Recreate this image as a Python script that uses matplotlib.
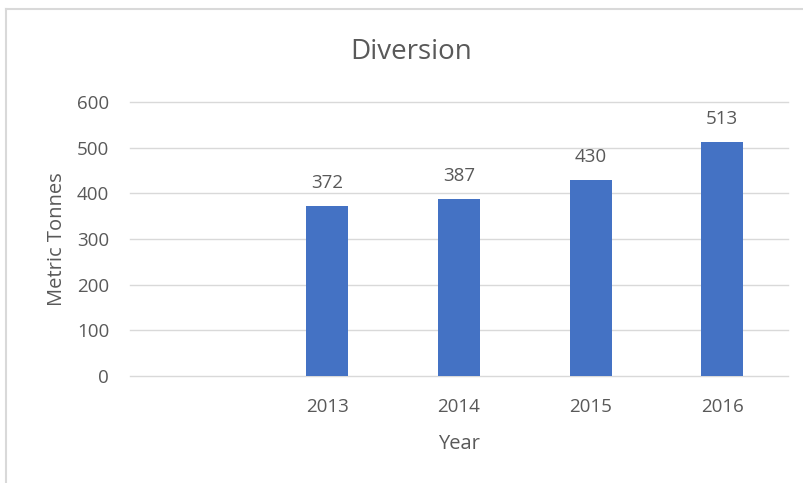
import matplotlib.pyplot as plt
from matplotlib.lines import Line2D

# data
years = ["", "2013", "2014", "2015", "2016"]
tonnes = [None, 372, 387, 430, 513]

bar_color = "#4472C4"
text_color = "#595959"
grid_color = "#D9D9D9"

plt.rcParams['font.family'] = ['Open Sans', 'DejaVu Sans']

fig = plt.figure(figsize=(8.04, 4.83), dpi=100)
ax = fig.add_axes([0.1617, 0.2215, 0.8184, 0.5673])

# outer chart frame (cut off at right and bottom like the screenshot)
fig.add_artist(Line2D([6 / 804, 6 / 804], [0, 1 - 9 / 483], transform=fig.transFigure,
                      color=grid_color, lw=1.5))
fig.add_artist(Line2D([6 / 804, 1], [1 - 9 / 483, 1 - 9 / 483], transform=fig.transFigure,
                      color=grid_color, lw=1.5))

x = list(range(len(years)))
vals = [v if v is not None else 0 for v in tonnes]
bars = ax.bar(x, vals, width=0.32, color=bar_color, zorder=3)

for xi, v in zip(x, tonnes):
    if v is not None:
        ax.annotate(str(v), (xi, v), xytext=(0, 10), textcoords="offset points",
                    ha="center", va="bottom", fontsize=13.5, color=text_color)

ax.set_xlim(-0.5, len(years) - 0.5)
ax.set_ylim(0, 600)
ax.set_yticks(range(0, 601, 100))
ax.set_xticks(x)
ax.set_xticklabels(years)
ax.yaxis.grid(True, color=grid_color, lw=1)
for gl in ax.get_ygridlines():
    gl.set_clip_on(False)
ax.set_axisbelow(True)
for s in ax.spines.values():
    s.set_visible(False)
ax.tick_params(length=0, labelsize=13.5, colors=text_color)
ax.tick_params(axis='y', pad=15)
ax.tick_params(axis='x', pad=16)

ax.set_xlabel("Year", fontsize=14.5, color=text_color, labelpad=13)
ax.set_ylabel("Metric Tonnes", fontsize=14.5, color=text_color, labelpad=7)
fig.text(0.511, 1 - 52 / 483, "Diversion", ha="center", va="center",
         fontsize=20, color=text_color)

fig.savefig("out.png", dpi=100)
